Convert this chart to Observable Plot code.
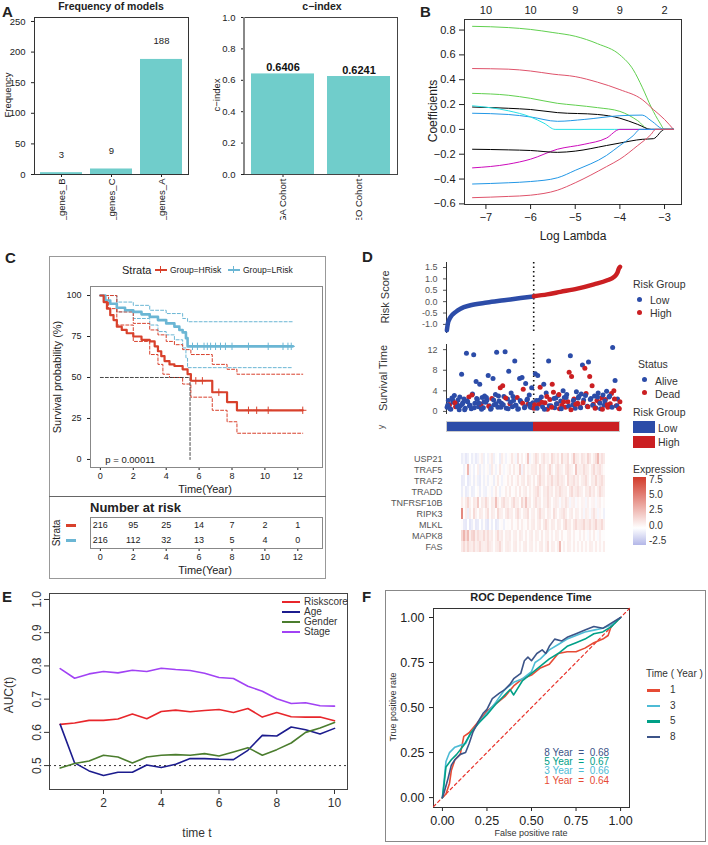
<!DOCTYPE html>
<html><head><meta charset="utf-8">
<script src="https://cdn.jsdelivr.net/npm/d3@7"></script>
<script src="https://cdn.jsdelivr.net/npm/@observablehq/plot@0.6"></script>
<style>
html,body{margin:0;padding:0;background:#fff;}
#root{position:relative;width:708px;height:845px;overflow:hidden;font-family:"Liberation Sans",Arial,Helvetica,sans-serif;color:#222;background:#fff;}
.t{position:absolute;white-space:nowrap;line-height:1;}
.box{position:absolute;}
</style></head><body><div id="root"></div><script>
// ---------------- DATA ----------------
// Panel A
const freqModels = ["8_genes_B", "10_genes_C", "9_genes_A"];
const freqValues = [3, 9, 188];
const freqTicks = [0, 50, 100, 150, 200, 250];
const cohorts = ["TCGA Cohort", "GEO Cohort"];
const cindexValues = [0.6406, 0.6241];
const cindexTicks = [0, 0.2, 0.4, 0.6, 0.8, 1.0];
// Panel B (lasso coefficient paths: [logLambda, coefficient])
const lassoTopTicks = [-7, -6, -5, -4, -3];
const lassoTopLabels = ["10", "10", "9", "9", "2"];
const lassoGreen1 = [[-7.3,0.83],[-6.5,0.82],[-6,0.805],[-5.5,0.78],[-5,0.75],[-4.5,0.69],[-4,0.60],[-3.7,0.48],[-3.5,0.34],[-3.3,0.18],[-3.1,0.05],[-3.0,0],[-2.8,0]];
const lassoRed1 = [[-7.3,0.49],[-6.5,0.485],[-6,0.47],[-5.5,0.445],[-5,0.425],[-4.5,0.38],[-4,0.32],[-3.5,0.24],[-3.25,0.16],[-3.0,0.08],[-2.8,0]];
const lassoGreen2 = [[-7.3,0.29],[-6.5,0.275],[-6,0.25],[-5.4,0.21],[-5,0.195],[-4.5,0.175],[-4,0.145],[-3.6,0.07],[-3.35,0],[-2.8,0]];
const lassoBlack1 = [[-7.3,0.18],[-6.5,0.17],[-6,0.16],[-5.4,0.135],[-4.5,0.12],[-4,0.09],[-3.6,0.04],[-3.3,0],[-2.8,0]];
const lassoBlue1 = [[-7.3,0.13],[-6.5,0.12],[-6,0.10],[-5.4,0.065],[-4.8,0.08],[-4,0.11],[-3.5,0.115],[-3.3,0.07],[-3.0,0],[-2.8,0]];
const lassoCyan = [[-7.3,0.19],[-6.5,0.15],[-6,0.10],[-5.7,0.05],[-5.45,0],[-2.8,0]];
const lassoMagenta = [[-7.3,-0.31],[-6.5,-0.28],[-6,-0.24],[-5.4,-0.16],[-4.8,-0.12],[-4.3,-0.07],[-4.0,0],[-2.8,0]];
const lassoBlack2 = [[-7.3,-0.16],[-6.5,-0.165],[-6,-0.17],[-5.4,-0.185],[-5,-0.175],[-4.3,-0.13],[-4,-0.11],[-3.5,-0.08],[-3.25,-0.075],[-3.0,0],[-2.8,0]];
const lassoBlue2 = [[-7.3,-0.44],[-6.5,-0.43],[-6,-0.42],[-5.4,-0.39],[-5,-0.33],[-4.3,-0.21],[-4,-0.13],[-3.7,-0.05],[-3.55,0],[-2.8,0]];
const lassoRed2 = [[-7.3,-0.55],[-6.5,-0.54],[-6,-0.53],[-5.4,-0.49],[-5,-0.43],[-4.3,-0.30],[-4,-0.24],[-3.6,-0.13],[-3.3,-0.04],[-3.2,0],[-2.8,0]];
const lassoPaths = [lassoGreen1, lassoRed1, lassoGreen2, lassoBlack1, lassoBlue1, lassoCyan, lassoMagenta, lassoBlack2, lassoBlue2, lassoRed2];
const lassoColors = ["#61D04F", "#DF536B", "#61D04F", "#000000", "#2297E6", "#28E2E5", "#CD0BBC", "#000000", "#2297E6", "#DF536B"];
// Panel C (Kaplan-Meier)
const kmHighT = [0,0.2,0.4,0.6,0.8,1.0,1.3,1.6,2.0,2.5,3.0,3.3,3.5,3.7,3.9,4.2,4.5,5.0,5.3,5.5,6.8,7.7,8.3,12.3];
const kmHighS = [100,96,92,88,85,81,79,77,75,73,72,69,66,63,60,58,57,55,52,48,41,35,30,30];
const kmLowT = [0,0.3,0.6,1.0,1.5,2.0,2.5,3.0,3.5,4.0,4.5,4.8,5.0,5.2,5.3,11.7];
const kmLowS = [100,97,95,92.5,91,90,88.5,87,85,83,81,79,77.5,74,69,69];
const ciLowUpper = [[0,100],[1,96],[2,94],[3,91],[4,89],[5,86],[5.3,84],[11.7,84]];
const ciLowLower = [[0,100],[1,90],[2,86],[3,82],[3.5,78],[4,76],[4.5,73],[5,68],[5.2,62],[5.3,56],[11.7,56]];
const ciHighUpper = [[0,100],[1,90],[2,83],[3,79],[3.5,76],[4,72],[4.5,70],[5,67],[5.5,64],[6.8,58],[7.7,55],[8.3,52],[12.3,52]];
const ciHighLower = [[0,100],[0.5,92],[1,82],[2,72],[3,64],[3.5,58],[3.8,52],[4.2,50],[5,46],[5.5,38],[6.8,30],[7.7,23],[8.3,16],[12.3,16]];
const censorLowT = [5.6,5.9,6.3,6.5,6.7,7.0,7.3,7.6,8.0,9.0,10.2,11.1,11.4,11.6];
const censorHighT = [5.8,6.2,7.2,9.0,9.5,10.2,12.3];
const medianSurv = 5.45;
const kmTicksX = [0,2,4,6,8,10,12];
const kmTicksY = [0,25,50,75,100];
const riskTimes = [0,2,4,6,8,10,12];
const riskHigh = [216,95,25,14,7,2,1];
const riskLow = [216,112,32,13,5,4,0];
// Panel D
const rsLowIdx = [1,3.3,9.9,22.3,34.8,59.6,101,143,184,216];
const rsLowVal = [-1.26,-0.97,-0.68,-0.46,-0.31,-0.16,-0.04,0.06,0.16,0.23];
const rsHighIdx = [217,250,283,325,366,399,416,424,428,431];
const rsHighVal = [0.24,0.32,0.43,0.57,0.76,0.94,1.09,1.26,1.46,1.53];
const groupCounts = [216, 216];
const survTimeLow = [0.8,2.1,1.3,0.4,2.6,1.8,3.1,0.9,1.5,2.2,0.3,1.1,
 7.2,1.7,2.4,0.6,11.3,1.9,2.8,1.2,0.5,3.4,11.0,1.6,
 5.8,2.3,0.9,5.3,1.4,2.7,0.7,3.0,1.8,2.2,7.0,1.1,
 0.4,2.5,6.4,1.3,3.3,11.5,0.8,2.0,4.6,1.6,5.0,2.9,
 11.6,0.6,2.4,7.8,1.5,3.6,0.9,2.1,9.8,1.2,2.7,0.5,
 6.4,1.9,6.6,4.3,0.7,5.4,2.2,1.4,3.2,0.8,4.6,1.7];
const survDeadLow = [0,0,1,0,0,0,0,1,0,0,0,0,
 0,0,0,0,0,0,1,0,0,0,0,0,
 0,0,0,0,1,0,0,0,0,0,0,0,
 0,1,0,0,0,0,0,0,1,0,1,0,
 0,0,0,0,1,0,0,0,0,0,1,0,
 0,0,0,1,0,0,0,1,0,0,0,0];
const survTimeLowExtra = [1.2,0.5,2.3,1.7,0.9,2.8,1.4,0.3,2.0,1.1,3.2,0.7,2.5,1.6,0.4,1.9,2.7,1.0,0.6,2.2,1.5,3.0,0.8,1.3,2.6,0.5,1.8,2.9,1.2,0.4,2.1,1.6,0.9,2.4,1.4,0.7];
const survDeadLowExtra = [0,0,0,1,0,0,0,0,0,0,1,0,0,0,0,0,0,1,0,0,0,0,0,0,1,0,0,0,0,0,0,1,0,0,0,0];
const survTimeHigh = [0.6,7.3,2.1,7.0,1.4,4.7,2.8,0.9,5.3,1.7,3.6,0.4,
 9.8,2.3,1.1,5.3,3.7,0.7,2.6,1.5,3.1,0.5,2.0,1.2,
 4.0,2.7,0.8,3.3,1.9,7.6,10.8,6.8,1.3,2.4,0.6,3.8,
 1.6,2.9,0.9,3.4,9.0,2.2,8.4,3.5,1.0,9.6,6.8,2.5,
 5.0,1.4,3.0,0.7,2.1,3.6,1.8,0.5,2.6,3.2,1.2,2.3,
 3.9,0.8,2.8,1.5,3.5,12.4,4.0,6.0,1.1,2.4,0.6,1.9];
const survDeadHigh = [1,0,0,0,1,1,0,0,0,1,0,1,
 0,1,0,1,1,0,0,1,0,1,0,1,
 0,0,1,0,1,1,0,1,0,1,0,0,
 1,0,1,0,0,0,1,1,0,0,1,0,
 1,1,0,0,1,0,1,0,1,0,0,1,
 0,1,0,1,1,0,1,0,1,0,1,1];
const survTimeHighExtra = [1.3,0.6,2.2,1.8,0.4,2.9,1.1,0.8,2.5,1.5,3.3,0.5,1.9,2.7,1.0,0.3,2.1,1.4,2.6,0.7,1.7,3.1,0.9,2.3,1.2,0.6,2.8,1.6,0.4,2.0,1.3,3.0,0.8,2.4,1.1,0.5];
const survDeadHighExtra = [1,0,0,1,0,1,0,1,0,0,1,0,1,0,0,1,0,1,0,0,1,0,1,0,0,1,0,0,1,0,1,0,0,1,0,1];
const genes = ["USP21","TRAF5","TRAF2","TRADD","TNFRSF10B","RIPK3","MLKL","MAPK8","FAS"];
const exprUSP21 = [-0.6,-0.3,-0.8,-0.5,0,-0.6,-0.2,-0.7,-0.4,0.2,0.6,-0.5, 0,-0.4,0.3,0.8,-0.5,0.1,0,-0.6,0.7,0.2,-0.4,0.1, 0.2,0.9,0.3,-0.3,1.2,0.1,0.6,0,0.4,2.2,-0.3,0.2, 0.6,1.3,0.8,0.1,0.7,1.1,0.5,0.6,0.2,1.4,0.8,0.5, 0.9,0.2,1.5,0.6,0.7,1.2,0.1,0.6,2.0,0.8,0.7,0.3, 1.1,0.8,0.5,1.6,0.9,0.2,0.7,1.3,2.6,0.6,1.2,0.8];
const exprTRAF5 = [0,-0.5,0.2,2.8,-0.4,0.1,-0.5,0,0.6,-0.6,0.2,-0.4, 0.1,0.3,-0.5,0.8,0.2,-0.4,0.1,0.9,0.2,-0.3,0.1,0.3, 0.7,0.1,0.8,0.2,0.3,1.8,-0.4,0.9,0.1,0.6,0.3,0.7, 0.7,0.9,0.2,1.3,0.6,0.8,0.1,0.7,1.5,0.6,0.1,0.8, 1.2,0.7,0.6,0.2,0.9,1.3,0.7,0.5,0.1,2.2,0.6,0.7, 0.6,1.3,0.8,0.7,0.2,0.8,1.4,0.6,0.9,1.2,0.6,0.2];
const exprTRAF2 = [-0.7,-0.6,0,-0.8,-0.5,0.1,-0.6,0.2,-0.5,-0.7,0.1,-0.5, 0.2,-0.5,0.1,0.2,-0.6,0.2,0.8,0.1,-0.4,0.2,0.1,0.7, 0.2,0.8,0.1,0.3,0.9,0.2,0.7,0.8,0.1,1.0,0.7,0.2, 0.8,0.1,0.9,1.5,0.7,0.8,0.2,0.9,0.7,1.4,0.6,0.8, 1.3,0.7,0.9,0.6,0.1,1.4,0.7,0.8,1.2,0.6,0.9,0.2, 0.7,0.8,1.3,0.6,0.1,0.8,0.7,1.5,0.6,0.9,1.3,0.7];
const exprTRADD = [-0.6,0.1,-0.7,-0.5,0.1,-0.6,-0.5,0,0.2,-0.6,0.1,-0.4, -0.5,0.1,0.2,-0.4,0.2,0.8,0.1,-0.5,0.2,0.1,0.7,0.2, 0.8,0.1,0.2,0.7,0.1,0.9,0.2,0.6,0.8,0.1,0.7,0.2, 0.7,0.9,1.4,0.6,0.1,0.8,0.7,1.3,0.6,0.8,0.2,0.9, 0.7,1.3,0.8,0.6,0.7,0.1,0.9,1.4,0.6,0.8,1.2,0.7, 0.6,0.1,0.8,0.7,1.3,0.6,0.9,0.2,0.7,1.4,0.8,0.6];
const exprTNFRSF10B = [0.7,0.2,0.8,1.5,0.6,0.1,0.9,0.7,2.0,0.1,0.8,0.6, 1.4,0.7,0.1,0.8,0.6,2.4,0.7,0.2,0.9,1.3,0.6,0.7, 0.2,0.8,1.4,0.6,0.7,0.1,1.5,0.7,2.2,0.6,0.8,0.1, 0.7,1.2,0.6,0.8,0.1,0.7,0.6,1.3,0.7,0.1,0.6,0.8, 0.6,-0.2,0.7,0.5,1.1,0.6,-0.3,0.5,0.6,-0.2,0.4,0.1, 0.5,0.4,-0.3,0.6,0.1,0.4,0.5,-0.2,0.4,0.6,0.1,0.3];
const exprRIPK3 = [4.5,0.1,0.7,-0.6,0.8,0.1,1.4,0.6,0.1,0.8,0.7,0.1, 0.7,1.3,0.1,0.8,0.6,0.1,1.5,0.7,0.6,0.1,0.8,1.2, 0.6,0.7,0.1,0.8,1.4,0.6,0.1,0.7,0.8,1.3,0.1,0.6, 0.7,0.1,0.8,1.4,0.6,0.7,0.1,0.8,0.6,0.1,1.3,0.7, 0.1,0.6,0.8,1.2,0.7,0.1,0.6,0.8,0.1,0.7,0.6,0.1, 0.6,-0.3,0.7,0.5,-0.2,0.6,1.1,0.5,-0.3,0.4,0.1,-0.5];
const exprMLKL = [0.1,-0.7,-0.8,0,-0.9,-0.6,0.1,-0.8,-0.7,0,-0.6,0.1, -0.7,-0.9,0.1,-0.6,0,-0.8,-0.6,0.1,0.2,-0.5,0.1,0.2, 0.1,0.7,0.1,0.2,0.8,0.1,0.7,0.2,0.1,0.8,0.2,0.7, 0.8,0.1,0.7,0.9,0.1,0.8,1.4,0.7,0.2,0.8,0.7,0.1, 0.8,0.7,0.1,0.9,1.5,0.7,0.8,0.2,0.9,1.4,0.7,0.8, 0.9,1.5,0.7,0.8,1.3,0.6,0.9,1.6,0.7,0.8,1.4,0.6];
const exprMAPK8 = [1.5,2.8,1.4,2.6,0.7,1.5,1.8,0.7,1.3,0.8,0.7,1.4, 0.7,1.3,0.6,0.8,0.1,0.7,1.4,0.6,0.8,0.1,0.7,0.6, 0.8,0.1,0.6,0.7,0.1,0.8,0.6,0.1,0.7,0.1,0.6,0.8, 0.1,0.7,0.6,0.1,0.8,0.1,0.6,0.7,0.1,0.6,0.1,0.7, 0.6,0.1,0.7,0.1,0.1,0.6,0.7,0.1,0.6,0.1,0.1,0.6, 0.1,0.6,0.1,-0.2,0.6,0.1,0.7,0.1,-0.2,0.6,0.1,0.1];
const exprFAS = [0.8,1.4,0.7,1.5,0.8,0.7,1.3,0.6,0.8,1.4,0.7,0.6, 0.7,1.3,0.8,0.6,0.1,0.7,0.8,1.4,0.6,0.1,0.7,0.8, 0.6,0.1,0.7,0.8,0.1,0.6,0.1,0.7,0.8,0.1,0.6,0.7, 0.1,0.6,0.1,0.7,0.8,0.1,0.6,1.3,0.1,0.7,0.6,0.1, 0.7,2.6,0.1,0.6,0.1,0.7,0.6,0.1,0.7,0.1,0.6,0.1, 0.7,0.1,0.6,0.1,0.7,0.6,0.1,0.7,0.1,0.6,0.1,0.7];
const exprByGene = [exprUSP21, exprTRAF5, exprTRAF2, exprTRADD, exprTNFRSF10B, exprRIPK3, exprMLKL, exprMAPK8, exprFAS];
const exprLegendTicks = ["7.5","5.0","2.5","0.0","-2.5"];
// Panel E (time-dependent AUC)
const aucTimes = [0.5,1,1.5,2,2.5,3,3.5,4,4.5,5,5.5,6,6.5,7,7.5,8,8.5,9,9.5,10];
const aucRiskscore = [0.624,0.628,0.636,0.636,0.640,0.655,0.641,0.663,0.667,0.662,0.666,0.669,0.660,0.672,0.646,0.660,0.647,0.646,0.646,0.635];
const aucAge = [0.624,0.508,0.484,0.470,0.480,0.480,0.502,0.494,0.504,0.521,0.521,0.519,0.518,0.546,0.591,0.589,0.616,0.608,0.595,0.612];
const aucGender = [0.493,0.506,0.514,0.531,0.526,0.508,0.526,0.531,0.533,0.531,0.536,0.529,0.541,0.554,0.531,0.548,0.568,0.600,0.613,0.630];
const aucStage = [0.792,0.763,0.776,0.783,0.779,0.787,0.783,0.793,0.789,0.786,0.778,0.765,0.762,0.739,0.724,0.701,0.687,0.689,0.680,0.679];
const aucSeries = ["Riskscore","Age","Gender","Stage"];
// Panel F (ROC)
const rocYear1 = [[0,0],[0.02,0.02],[0.04,0.08],[0.05,0.15],[0.07,0.21],[0.1,0.24],[0.12,0.34],[0.15,0.36],[0.2,0.42],[0.25,0.48],[0.3,0.52],[0.35,0.56],[0.4,0.62],[0.45,0.66],[0.5,0.68],[0.55,0.72],[0.6,0.74],[0.65,0.8],[0.7,0.81],[0.75,0.81],[0.8,0.83],[0.85,0.86],[0.9,0.88],[0.93,0.9],[0.95,0.96],[1,1]];
const rocYear3 = [[0,0],[0.01,0.1],[0.02,0.2],[0.04,0.25],[0.07,0.28],[0.1,0.29],[0.13,0.3],[0.16,0.36],[0.2,0.41],[0.25,0.47],[0.3,0.53],[0.35,0.6],[0.4,0.64],[0.45,0.66],[0.5,0.7],[0.52,0.75],[0.55,0.77],[0.6,0.82],[0.65,0.85],[0.7,0.88],[0.75,0.9],[0.8,0.92],[0.85,0.93],[0.9,0.94],[0.95,0.96],[1,1]];
const rocYear5 = [[0,0],[0.01,0.08],[0.02,0.17],[0.05,0.21],[0.08,0.24],[0.12,0.29],[0.16,0.36],[0.2,0.41],[0.25,0.46],[0.3,0.52],[0.35,0.57],[0.38,0.6],[0.4,0.57],[0.45,0.65],[0.5,0.69],[0.55,0.73],[0.6,0.77],[0.65,0.8],[0.7,0.84],[0.75,0.86],[0.8,0.88],[0.85,0.91],[0.9,0.92],[0.95,0.95],[1,1]];
const rocYear8 = [[0,0],[0.01,0.03],[0.03,0.1],[0.05,0.18],[0.07,0.21],[0.1,0.24],[0.13,0.25],[0.15,0.3],[0.17,0.36],[0.2,0.42],[0.23,0.47],[0.25,0.49],[0.28,0.55],[0.32,0.58],[0.35,0.6],[0.38,0.63],[0.4,0.66],[0.44,0.69],[0.46,0.76],[0.48,0.78],[0.5,0.76],[0.53,0.8],[0.56,0.82],[0.58,0.8],[0.6,0.84],[0.63,0.88],[0.67,0.87],[0.7,0.89],[0.75,0.91],[0.8,0.93],[0.85,0.95],[0.9,0.94],[0.95,0.97],[1,1]];
const rocYears = ["1","3","5","8"];
const rocAUC = ["0.64","0.66","0.67","0.68"];
const rocLabelY = [0.094, 0.145, 0.195, 0.246];
const rocTicks = [0, 0.25, 0.5, 0.75, 1];

// ---------------- STYLE / HELPERS ----------------
const FONT = '"Liberation Sans", Arial, Helvetica, sans-serif';
const TEAL = "#70CDCB";
const KM_RED = "#D8412C", KM_BLUE = "#6BB6D4";
const D_BLUE = "#2C4CA8", D_RED = "#CB1F22";
const AUC_COLORS = ["#E8262B", "#1C1C8E", "#4B7D2E", "#A142F4"];
const ROC_COLORS = ["#E64B35", "#4DBBD5", "#00A087", "#3C5488"];
const root = document.getElementById("root");
function sty(fs, extra) { return Object.assign({fontFamily: FONT, fontSize: fs + "px", background: "transparent", overflow: "visible", color: "#222"}, extra || {}); }
function put(el, x, y, parent) { el.style.position = "absolute"; el.style.left = x + "px"; el.style.top = y + "px"; (parent || root).appendChild(el); return el; }
function txt(s, x, y, o) {
  o = o || {};
  const d = document.createElement("div");
  d.className = "t"; d.textContent = s;
  d.style.left = x + "px"; d.style.top = y + "px";
  d.style.fontSize = (o.size || 10) + "px";
  if (o.bold) d.style.fontWeight = "bold";
  if (o.color) d.style.color = o.color;
  const ax = o.anchor === "middle" ? "-50%" : o.anchor === "end" ? "-100%" : "0";
  d.style.transform = "translate(" + ax + ",-50%)" + (o.rotate ? " rotate(" + o.rotate + "deg)" : "");
  root.appendChild(d);
}
function box(x, y, w, h, css) {
  const d = document.createElement("div");
  d.className = "box";
  d.style.left = x + "px"; d.style.top = y + "px"; d.style.width = w + "px"; d.style.height = h + "px";
  d.style.cssText += css;
  root.appendChild(d);
  return d;
}
function stepAt(T, S, t) { let v = S[0]; for (let i = 0; i < T.length; i++) if (T[i] <= t) v = S[i]; return v; }

// ---------------- PANEL A ----------------
const clipA = box(0, 0, 405, 220, "overflow:hidden;");
txt("A", 2, 11, {size: 15, bold: true});
txt("Frequency of models", 111, 6, {size: 10.5, bold: true, anchor: "middle"});
txt("Frequency", 8, 95, {size: 9.5, anchor: "middle", rotate: -90});
const freqData = freqModels.map((m, i) => ({m, v: freqValues[i]}));
put(Plot.plot({
  width: 195, height: 240, marginLeft: 34, marginRight: 7, marginTop: 17, marginBottom: 66,
  style: sty(9.5),
  x: {domain: freqModels, paddingInner: 0.16, paddingOuter: 0.12, label: null, tickRotate: -90, tickSize: 3, tickPadding: 1},
  y: {domain: [0, 256.5], ticks: freqTicks, label: null, tickSize: 3},
  marks: [
    Plot.barY(freqData, {x: "m", y: "v", fill: TEAL}),
    Plot.text(freqData, {x: "m", y: "v", text: d => String(d.v), dy: -18, fontSize: 9.5, fill: "#222"}),
    Plot.frame({stroke: "#333"})
  ]
}), 0, 0, clipA);

txt("c\u2212index", 322, 6, {size: 10.5, bold: true, anchor: "middle"});
txt("c\u2212index", 217, 95, {size: 9.5, anchor: "middle", rotate: -90});
const cData = cohorts.map((c, i) => ({c, v: cindexValues[i]}));
put(Plot.plot({
  width: 197, height: 240, marginLeft: 39, marginRight: 5, marginTop: 17, marginBottom: 66,
  style: sty(9.5),
  x: {domain: cohorts, paddingInner: 0.17, paddingOuter: 0.08, label: null, tickRotate: -90, tickSize: 3, tickPadding: 1},
  y: {domain: [0, 1], ticks: cindexTicks, tickFormat: d => d.toFixed(1), label: null, tickSize: 3},
  marks: [
    Plot.barY(cData, {x: "c", y: "v", fill: TEAL}),
    Plot.text(cData, {x: "c", y: "v", text: d => d.v.toFixed(4), dy: -6, fontSize: 11, fontWeight: "bold", fill: "#111"}),
    Plot.frame({stroke: "#444"})
  ]
}), 205, 0, clipA);
box(243, 17, 2, 157, "background:#888;");

// ---------------- PANEL B ----------------
txt("B", 420, 11, {size: 15, bold: true});
const lassoRows = [];
lassoPaths.forEach((p, k) => p.forEach(([x, y]) => lassoRows.push({k, x, y})));
put(Plot.plot({
  width: 308, height: 245, marginLeft: 64, marginRight: 27, marginTop: 19, marginBottom: 41,
  style: sty(11),
  x: {domain: [-7.48, -2.62]},
  y: {domain: [-0.605, 0.885], ticks: [-0.6,-0.4,-0.2,0,0.2,0.4,0.6,0.8], tickFormat: d => (d < 0 ? "\u2212" : "") + Math.abs(d).toFixed(1), label: null, tickSize: 5},
  color: {domain: d3.range(lassoPaths.length), range: lassoColors},
  marks: [
    Plot.line(lassoRows, {x: "x", y: "y", z: "k", stroke: "k", strokeWidth: 1, curve: "monotone-x"}),
    Plot.frame({stroke: "#333"}),
    Plot.axisX({anchor: "bottom", ticks: lassoTopTicks, tickFormat: d => (d < 0 ? "\u2212" : "") + Math.abs(d), tickSize: 5, label: null}),
    Plot.axisX({anchor: "top", ticks: lassoTopTicks, tickFormat: d => lassoTopLabels[lassoTopTicks.indexOf(d)], tickSize: 0, tickPadding: 6, label: null})
  ]
}), 400, 0);
txt("Log Lambda", 573, 236, {size: 12, anchor: "middle"});
txt("Coefficients", 433, 111, {size: 12, anchor: "middle", rotate: -90});

// ---------------- PANEL C ----------------
txt("C", 5, 257, {size: 15, bold: true});
box(49, 256, 275, 321, "border:1px solid #999;");
box(49, 496, 277, 1, "background:#666;");
txt("Strata", 122, 270, {size: 11});
box(155, 269, 12, 1.6, "background:" + KM_RED + ";");
box(160, 266, 1.4, 7, "background:" + KM_RED + ";");
txt("Group=HRisk", 170, 270, {size: 8.5});
box(228, 269, 12, 1.6, "background:" + KM_BLUE + ";");
box(233, 266, 1.4, 7, "background:" + KM_BLUE + ";");
txt("Group=LRisk", 243, 270, {size: 8.5});
const kmHigh = kmHighT.map((t, i) => [t, kmHighS[i]]);
const kmLow = kmLowT.map((t, i) => [t, kmLowS[i]]);
const censLow = censorLowT.map(t => [t, stepAt(kmLowT, kmLowS, t)]);
const censHigh = censorHighT.map(t => [t, stepAt(kmHighT, kmHighS, t)]);
put(Plot.plot({
  width: 276, height: 241, marginLeft: 41, marginRight: 3, marginTop: 30, marginBottom: 30,
  style: sty(9),
  x: {domain: [-0.6, 13.5], ticks: kmTicksX, tickSize: 3, tickPadding: 2, label: null},
  y: {domain: [-4.9, 105.5], ticks: kmTicksY, tickSize: 3, label: null},
  marks: [
    Plot.frame({stroke: "#888"}),
    Plot.line(ciLowUpper, {curve: "step-after", stroke: KM_BLUE, strokeWidth: 1, strokeDasharray: "3,2"}),
    Plot.line(ciLowLower, {curve: "step-after", stroke: KM_BLUE, strokeWidth: 1, strokeDasharray: "3,2"}),
    Plot.line(ciHighUpper, {curve: "step-after", stroke: KM_RED, strokeWidth: 1, strokeDasharray: "3,2"}),
    Plot.line(ciHighLower, {curve: "step-after", stroke: KM_RED, strokeWidth: 1, strokeDasharray: "3,2"}),
    Plot.line([[0, 50], [medianSurv, 50]], {stroke: "#333", strokeWidth: 0.9, strokeDasharray: "3,2"}),
    Plot.line([[medianSurv, 50], [medianSurv, 0]], {stroke: "#333", strokeWidth: 0.9, strokeDasharray: "3,2"}),
    Plot.line(kmLow, {curve: "step-after", stroke: KM_BLUE, strokeWidth: 2.6}),
    Plot.line(kmHigh, {curve: "step-after", stroke: KM_RED, strokeWidth: 2.2}),
    Plot.dot(censLow, {symbol: "plus", r: 2.5, stroke: KM_BLUE, strokeWidth: 1}),
    Plot.dot(censHigh, {symbol: "plus", r: 2.5, stroke: KM_RED, strokeWidth: 1}),
    Plot.text([{x: 0.3, y: 0}], {x: "x", y: "y", text: () => "p = 0.00011", textAnchor: "start", fontSize: 9.5, fill: "#222"})
  ]
}), 49, 256);
txt("Time(Year)", 205, 489, {size: 11, anchor: "middle"});
txt("Survival probability (%)", 57, 377, {size: 11, anchor: "middle", rotate: -90});
txt("Number at risk", 90, 507, {size: 13, bold: true});
txt("Strata", 57, 533, {size: 10, anchor: "middle", rotate: -90});
box(66, 524, 10, 2.5, "background:" + KM_RED + ";");
box(66, 539, 10, 2.5, "background:" + KM_BLUE + ";");
const riskRows = [];
riskTimes.forEach((t, i) => { riskRows.push({t, g: "HRisk", n: riskHigh[i]}); riskRows.push({t, g: "LRisk", n: riskLow[i]}); });
put(Plot.plot({
  width: 276, height: 81, marginLeft: 41, marginRight: 3, marginTop: 20, marginBottom: 30,
  style: sty(9),
  x: {domain: [-0.6, 13.5], ticks: kmTicksX, tickSize: 3, tickPadding: 2, label: null},
  y: {domain: ["HRisk", "LRisk"], axis: null},
  marks: [
    Plot.frame({stroke: "#888"}),
    Plot.text(riskRows, {x: "t", y: "g", text: d => String(d.n), fontSize: 9, fill: "#222"})
  ]
}), 49, 497);
txt("Time(Year)", 205, 570, {size: 11, anchor: "middle"});

// ---------------- PANEL D ----------------
txt("D", 362, 256, {size: 15, bold: true});
const rsRows = rsLowIdx.map((x, i) => ({x, y: rsLowVal[i], g: "Low"})).concat(rsHighIdx.map((x, i) => ({x, y: rsHighVal[i], g: "High"})));
const nTotal = groupCounts[0] + groupCounts[1];
put(Plot.plot({
  width: 250, height: 80, marginLeft: 66, marginRight: 10, marginTop: 4, marginBottom: 5,
  style: sty(9, {color: "#555"}),
  x: {domain: [0, nTotal], axis: null},
  y: {domain: [-1.4, 1.72], ticks: [-1, -0.5, 0, 0.5, 1, 1.5], tickFormat: d => d.toFixed(1), tickSize: 3, label: null},
  marks: [
    Plot.ruleX([0], {stroke: "#333"}),
    Plot.ruleX([groupCounts[0] + 0.5], {stroke: "#111", strokeWidth: 1.6, strokeDasharray: "1.5,3"}),
    Plot.line(rsRows, {x: "x", y: "y", z: "g", stroke: d => d.g === "Low" ? D_BLUE : D_RED, strokeWidth: 4.5, strokeLinecap: "round", curve: "monotone-x"})
  ]
}), 380, 258);
const survRows = survTimeLow.map((t, i) => ({x: i * 3 + 1.5, t, dead: survDeadLow[i]}))
  .concat(survTimeLowExtra.map((t, i) => ({x: i * 6 + 3, t, dead: survDeadLowExtra[i]})))
  .concat(survTimeHigh.map((t, i) => ({x: groupCounts[0] + i * 3 + 1.5, t, dead: survDeadHigh[i]})))
  .concat(survTimeHighExtra.map((t, i) => ({x: groupCounts[0] + i * 6 + 3, t, dead: survDeadHighExtra[i]})));
put(Plot.plot({
  width: 250, height: 75, marginLeft: 66, marginRight: 10, marginTop: 2, marginBottom: 3,
  style: sty(9, {color: "#555"}),
  x: {domain: [0, nTotal], axis: null},
  y: {domain: [-0.6, 13], ticks: [0, 4, 8, 12], tickSize: 3, label: null},
  marks: [
    Plot.ruleX([0], {stroke: "#333"}),
    Plot.ruleX([groupCounts[0] + 0.5], {stroke: "#111", strokeWidth: 1.6, strokeDasharray: "1.5,3"}),
    Plot.dot(survRows, {x: "x", y: "t", r: 2.5, fill: d => d.dead ? D_RED : D_BLUE, stroke: "none"})
  ]
}), 380, 342);
const groupRects = [{x1: 0, x2: groupCounts[0], c: D_BLUE}, {x1: groupCounts[0], x2: nTotal, c: D_RED}];
put(Plot.plot({
  width: 250, height: 9, marginLeft: 66, marginRight: 10, marginTop: 0, marginBottom: 0,
  style: sty(9),
  x: {domain: [0, nTotal], axis: null},
  y: {domain: [0, 1], axis: null},
  marks: [Plot.rect(groupRects, {x1: "x1", x2: "x2", y1: 0, y2: 1, fill: d => d.c})]
}), 380, 422);
box(446, 421, 174, 11, "border:1px solid #ccc;box-sizing:border-box;");
const heatRows = [];
exprByGene.forEach((arr, gi) => arr.forEach((v, c) => heatRows.push({g: genes[gi], c, v})));
put(Plot.plot({
  width: 250, height: 102, marginLeft: 66, marginRight: 10, marginTop: 0, marginBottom: 0,
  style: sty(9, {color: "#555"}),
  x: {domain: d3.range(exprUSP21.length), axis: null, padding: 0},
  y: {domain: genes, padding: 0, tickSize: 0, tickPadding: 4, label: null},
  color: {type: "linear", domain: [-2.5, 0, 7.5], range: ["#B3B7E8", "#FFFFFF", "#D23A2A"], clamp: true},
  marks: [Plot.cell(heatRows, {x: "c", y: "g", fill: "v", inset: 0})]
}), 380, 451);
txt("Risk Score", 385, 297, {size: 11, anchor: "middle", rotate: -90, color: "#333"});
txt("Survival Time", 383, 378, {size: 11, anchor: "middle", rotate: -90, color: "#333"});
txt("y", 381, 427, {size: 9, anchor: "middle", rotate: -90, color: "#555"});
txt("Risk Group", 633, 284, {size: 10.5, color: "#333"});
box(637, 297, 5, 5, "border-radius:50%;background:" + D_BLUE + ";");
txt("Low", 650, 300, {size: 10.5, color: "#333"});
box(637, 310, 5, 5, "border-radius:50%;background:" + D_RED + ";");
txt("High", 650, 313, {size: 10.5, color: "#333"});
txt("Status", 638, 364, {size: 10.5, color: "#333"});
box(642, 377, 5, 5, "border-radius:50%;background:" + D_BLUE + ";");
txt("Alive", 655, 381, {size: 10.5, color: "#333"});
box(642, 390, 5, 5, "border-radius:50%;background:" + D_RED + ";");
txt("Dead", 655, 394, {size: 10.5, color: "#333"});
txt("Risk Group", 633, 412, {size: 10.5, color: "#333"});
box(633, 421, 22, 12, "background:" + D_BLUE + ";");
txt("Low", 658, 428, {size: 10.5, color: "#333"});
box(633, 436, 22, 12, "background:" + D_RED + ";");
txt("High", 658, 442, {size: 10.5, color: "#333"});
txt("Expression", 633, 469, {size: 10.5, color: "#333"});
box(633, 477, 13, 68, "background:linear-gradient(#D23A2A 0%, #FFFFFF 75%, #B3B7E8 100%);");
exprLegendTicks.forEach((s, i) => txt(s, 649, 480 + i * 15.2, {size: 10, color: "#333"}));

// ---------------- PANEL E ----------------
txt("E", 2, 596, {size: 15, bold: true});
const aucRows = [];
[aucRiskscore, aucAge, aucGender, aucStage].forEach((arr, k) => arr.forEach((v, i) => aucRows.push({s: aucSeries[k], t: aucTimes[i], v})));
put(Plot.plot({
  width: 360, height: 260, marginLeft: 49, marginRight: 13, marginTop: 8, marginBottom: 56,
  style: sty(12, {color: "#333"}),
  x: {domain: [0.13, 10.45], ticks: [2, 4, 6, 8, 10], tickSize: 5, tickPadding: 4, label: null},
  y: {domain: [0.428, 1.018], ticks: [0.5, 0.6, 0.7, 0.8, 0.9, 1.0], tickFormat: d => d.toFixed(1), tickRotate: -90, tickSize: 5, tickPadding: 4, label: null},
  color: {domain: aucSeries, range: AUC_COLORS},
  marks: [
    Plot.frame({stroke: "#444"}),
    Plot.ruleY([0.5], {stroke: "#333", strokeDasharray: "2,3"}),
    Plot.line(aucRows, {x: "t", y: "v", z: "s", stroke: "s", strokeWidth: 1.6})
  ]
}), 0, 585);
txt("AUC(t)", 9, 695, {size: 12, anchor: "middle", rotate: -90, color: "#333"});
txt("time t", 197, 833, {size: 12, anchor: "middle", color: "#333"});
aucSeries.forEach((s, i) => {
  box(282, 601 + i * 10, 18, 1.6, "background:" + AUC_COLORS[i] + ";");
  txt(s, 304, 602 + i * 10, {size: 10, color: "#333"});
});

// ---------------- PANEL F ----------------
txt("F", 362, 596, {size: 15, bold: true});
box(385, 590, 321, 252, "border:1px solid #888;box-sizing:border-box;");
txt("ROC Dependence Time", 531, 597, {size: 11, bold: true, anchor: "middle"});
const rocRows = [];
[rocYear1, rocYear3, rocYear5, rocYear8].forEach((arr, k) => arr.forEach(([x, y]) => rocRows.push({s: rocYears[k], x, y})));
const rocLabelRows = rocYears.map((s, i) => ({s, y: rocLabelY[i], txt: s + " Year\u00a0 = \u00a0" + rocAUC[i]}));
put(Plot.plot({
  width: 322, height: 253, marginLeft: 48, marginRight: 78, marginTop: 18, marginBottom: 36,
  style: sty(12.5, {color: "#222"}),
  x: {domain: [-0.05, 1.05], ticks: rocTicks, tickFormat: d => d.toFixed(2), tickSize: 4, label: null},
  y: {domain: [-0.055, 1.05], ticks: rocTicks, tickFormat: d => d.toFixed(2), tickSize: 4, label: null},
  color: {domain: rocYears, range: ROC_COLORS},
  marks: [
    Plot.frame({stroke: "#333"}),
    Plot.line([[-0.05, -0.05], [1.05, 1.05]], {stroke: "#E8322A", strokeWidth: 1.2, strokeDasharray: "3,3"}),
    Plot.line(rocRows, {x: "x", y: "y", z: "s", stroke: "s", strokeWidth: 1.6}),
    Plot.text(rocLabelRows, {x: 0.572, y: "y", text: "txt", fill: "s", textAnchor: "start", fontSize: 10, lineHeight: 0.9})
  ]
}), 385, 590);
txt("True positive rate", 393, 707, {size: 9, anchor: "middle", rotate: -90, color: "#333"});
txt("False positive rate", 531, 833, {size: 9, anchor: "middle", color: "#333"});
txt("Time ( Year )", 646, 674, {size: 10, color: "#333"});
rocYears.forEach((s, i) => {
  box(647, 689 + i * 15.5, 13, 2.5, "background:" + ROC_COLORS[i] + ";");
  txt(s, 670, 690 + i * 15.5, {size: 10, color: "#333"});
});
</script></body></html>
